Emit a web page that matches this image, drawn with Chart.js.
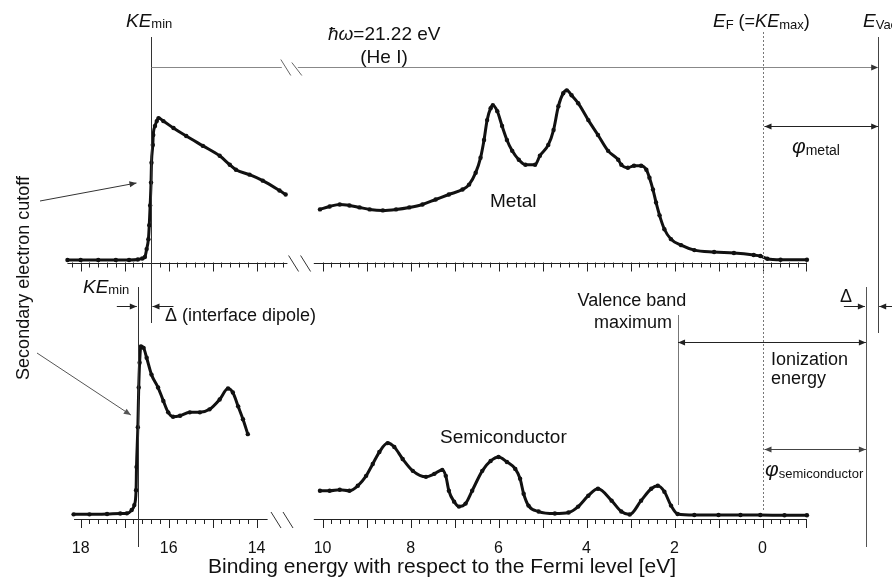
<!DOCTYPE html>
<html><head><meta charset="utf-8">
<script src="https://cdn.jsdelivr.net/npm/chart.js@4.4.0/dist/chart.umd.min.js"></script>
<style>html,body{margin:0;padding:0;background:#fff;}</style>
</head><body>
<canvas id="c" width="892" height="582"></canvas>
<script>
// ---------- DATA (binding energy in eV, intensity in arbitrary units) ----------
const metalLeftBE = [18.3, 18.0, 17.6, 17.2, 16.9, 16.7, 16.6, 16.54, 16.50, 16.46, 16.44, 16.42, 16.40, 16.39, 16.36, 16.35, 16.31, 16.27, 16.23, 16.12, 15.89, 15.60, 15.22, 14.84, 14.61, 14.47, 14.16, 13.86, 13.48, 13.34];
const metalLeftI  = [1, 1, 1, 1, 1, 1.5, 2.5, 4, 12, 22, 36, 56, 79, 99, 117, 127, 136, 141, 144, 141, 134, 126, 116, 106, 97, 92, 87, 81, 71, 67];

const metalRightBE = [10.06, 9.84, 9.61, 9.39, 9.16, 8.93, 8.63, 8.33, 8.03, 7.73, 7.43, 7.13, 6.82, 6.67, 6.52, 6.41, 6.33, 6.26, 6.18, 6.13, 6.03, 5.92, 5.81, 5.69, 5.54, 5.39, 5.17, 5.06, 4.87, 4.75, 4.64, 4.53, 4.45, 4.34, 4.19, 3.96, 3.74, 3.51, 3.28, 3.21, 3.06, 2.92, 2.76, 2.64, 2.57, 2.49, 2.42, 2.34, 2.23, 2.08, 1.85, 1.55, 1.10, 0.65, 0.20, 0.05, -0.11, -0.41, -1.01];
const metalRightI  = [52, 55, 57, 56, 54, 52, 51, 52, 54, 57, 62, 67, 72, 77, 89, 104, 122, 142, 154, 157, 151, 136, 122, 111, 102, 97, 97, 106, 117, 132, 156, 169, 172, 167, 159, 142, 127, 111, 102, 97, 94, 96, 96, 92, 84, 72, 59, 46, 32, 22, 16, 11, 9, 8, 6, 5, 2.3, 1.3, 1.3];

const semiLeftBE = [18.16, 17.8, 17.4, 17.1, 16.95, 16.84, 16.78, 16.74, 16.73, 16.70, 16.68, 16.66, 16.63, 16.57, 16.50, 16.39, 16.24, 16.12, 16.01, 15.90, 15.74, 15.52, 15.29, 15.07, 14.84, 14.65, 14.54, 14.42, 14.31, 14.20];
const semiLeftI  = [1.2, 1.2, 1.5, 2, 2.2, 5.5, 10.5, 25.5, 49, 89, 129, 154, 170.5, 169, 159, 142, 129, 115.5, 104, 99.5, 100.5, 104, 104, 107, 117, 128, 124, 110, 97, 82];

const semiRightBE = [10.06, 9.84, 9.61, 9.39, 9.20, 9.01, 8.86, 8.71, 8.52, 8.37, 8.18, 7.95, 7.65, 7.46, 7.28, 7.20, 7.13, 7.01, 6.90, 6.75, 6.60, 6.37, 6.18, 6.00, 5.81, 5.62, 5.51, 5.43, 5.32, 5.09, 4.72, 4.41, 4.19, 3.96, 3.74, 3.43, 3.21, 3.02, 2.76, 2.53, 2.38, 2.23, 2.08, 1.93, 1.55, 1.0, 0.5, 0.05, -0.5, -1.01];
const semiRightI  = [25, 25, 26, 25, 30, 40, 52, 64, 73, 69, 57, 45, 39, 42, 46, 40, 25, 14, 9, 12, 25, 45, 55, 59, 54, 47, 37, 22, 10, 4, 2, 3, 9, 20, 27, 15, 4, 1, 15, 27, 30, 24, 10, 1.5, 0.5, 0.5, 0.5, 0.5, 0.3, 0.3];

const tickLabels = [18, 16, 14, 10, 8, 6, 4, 2, 0];
// characteristic energies (eV, binding energy scale)
const keMinMetal = 16.39, keMinSemi = 16.70, fermi = 0, vbm = 1.92, eVacMetal = -2.63, eVacSemi = -2.35;

// ---------- axis break mapping ----------
const GAP = 2.5;                         // 14 -> 10 compressed break
const U = be => (be > 12 ? be : be + GAP);
const toPts = (xs, ys) => xs.map((v, i) => ({x: U(v), y: ys[i]}));

const FONT = '"Liberation Sans", Arial, Helvetica, sans-serif';
const INK = '#111';

const annot = {
  id: 'annot',
  afterDraw(chart) {
    const ctx = chart.ctx, xs = chart.scales.x;
    const P = u => xs.getPixelForValue(u);
    const X = be => P(U(be));
    const r = v => Math.round(v) + 0.5;
    ctx.save();
    function line(x1, y1, x2, y2, col, w, dash) {
      ctx.beginPath(); ctx.strokeStyle = col || '#222'; ctx.lineWidth = w || 1;
      ctx.setLineDash(dash || []); ctx.moveTo(x1, y1); ctx.lineTo(x2, y2); ctx.stroke(); ctx.setLineDash([]);
    }
    function head(xt, yt, dx, dy, col) {
      const L = 7, Wd = 3, n = Math.hypot(dx, dy), ux = dx / n, uy = dy / n;
      ctx.beginPath(); ctx.fillStyle = col || '#222';
      ctx.moveTo(xt, yt);
      ctx.lineTo(xt - ux * L - uy * Wd, yt - uy * L + ux * Wd);
      ctx.lineTo(xt - ux * L + uy * Wd, yt - uy * L - ux * Wd);
      ctx.closePath(); ctx.fill();
    }
    function arrow(x1, y1, x2, y2, both, col) {
      line(x1, y1, x2, y2, col);
      head(x2, y2, x2 - x1, y2 - y1, col);
      if (both) head(x1, y1, x1 - x2, y1 - y2, col);
    }
    function rich(runs, x, y, align) {
      let w = 0;
      runs.forEach(([s, size, it]) => { ctx.font = (it ? 'italic ' : '') + size + 'px ' + FONT; w += ctx.measureText(s).width; });
      let cx = align === 'center' ? x - w / 2 : x;
      ctx.textAlign = 'left'; ctx.textBaseline = 'alphabetic'; ctx.fillStyle = INK;
      runs.forEach(([s, size, it, dy]) => {
        ctx.font = (it ? 'italic ' : '') + size + 'px ' + FONT;
        ctx.fillText(s, cx, y + (dy || 0)); cx += ctx.measureText(s).width;
      });
    }

    // ----- axes with minor/major ticks -----
    function axis(y, segs, tickSegs) {
      segs.forEach(([a, b]) => line(X(a), r(y), X(b), r(y), '#222', 1));
      tickSegs.forEach(([a, b]) => {
        for (let k = Math.round(a * 5); k >= Math.round(b * 5); k--) {
          const px = r(X(k / 5)); const major = k % 5 === 0;
          line(px, y, px, y + (major ? 9 : 5), '#222', 1);
        }
      });
    }
    function slashes(cx, y) {
      line(cx - 12, y - 8, cx - 2, y + 8, '#333', 1);
      line(cx, y - 8, cx + 10, y + 8, '#333', 1);
    }
    const yTop = 262.5, yBot = chart.chartArea.bottom;
    axis(yTop, [[18.3, 13.3], [10.2, -1.0]], [[18.2, 13.4], [10.0, -1.0]]);
    axis(yBot, [[18.15, 13.75], [10.2, -1.0]], [[18.0, 14.0], [10.0, -1.0]]);
    slashes(P(13.0), yTop + 1);
    slashes(P(13.4), yBot + 1);

    // ----- vertical reference lines -----
    line(r(X(keMinMetal)), 37, r(X(keMinMetal)), 323, '#333', 1);
    line(r(X(keMinSemi)), 287, r(X(keMinSemi)), 547, '#333', 1);
    line(r(X(fermi)), 32, r(X(fermi)), 512, '#777', 1, [2, 2]);
    line(r(X(eVacMetal)), 37, r(X(eVacMetal)), 333, '#444', 1);
    line(r(X(eVacSemi)), 287, r(X(eVacSemi)), 547, '#555', 1);
    line(r(X(vbm)), 315, r(X(vbm)), 505, '#777', 1);

    // ----- photon energy line with break -----
    const hy = 67.5, bx = P(13.2);
    line(X(keMinMetal), hy, bx - 10, hy, '#888', 1.2);
    line(bx + 6, hy, X(eVacMetal) - 2, hy, '#888', 1.2);
    head(X(eVacMetal), hy, 1, 0, '#333');
    line(bx - 11, hy - 8, bx - 1, hy + 8, '#666', 1);
    line(bx, hy - 5, bx + 10, hy + 8, '#666', 1);

    // ----- double arrows -----
    arrow(X(fermi) + 2, 126.5, X(eVacMetal), 126.5, true, '#222');
    arrow(X(vbm), 342.5, X(eVacSemi), 342.5, true, '#222');
    arrow(X(fermi) + 2, 449.5, X(eVacSemi), 449.5, true, '#444');

    // ----- small Δ arrows -----
    arrow(X(keMinSemi) - 21, 306.5, X(keMinSemi) - 1, 306.5, false, '#222');
    arrow(X(keMinMetal) + 22, 306.5, X(keMinMetal) + 1, 306.5, false, '#222');
    arrow(X(eVacSemi) - 22, 306.5, X(eVacSemi) - 1, 306.5, false, '#222');
    arrow(X(eVacMetal) + 14, 306.5, X(eVacMetal) + 1, 306.5, false, '#222');

    // ----- pointer arrows from y title -----
    arrow(40, 201, X(keMinMetal) - 15, 183, false, '#333');
    arrow(37, 353, X(keMinSemi) - 7, 415, false, '#555');

    // ----- texts -----
    rich([['KE', 19, true], ['min', 13, false, 1]], 126, 27);
    rich([['ħω', 19, true], ['=21.22 eV', 19, false]], 328, 40);
    rich([['(He I)', 19, false]], 384, 63, 'center');
    rich([['E', 19, true], ['F', 13, false, 2], [' (=', 18, false], ['KE', 18, true], ['max', 13, false, 2], [')', 18, false]], 713, 27);
    rich([['E', 19, true], ['Vac', 13, false, 2]], 863, 27);
    rich([['φ', 21, true], ['metal', 14, false, 2]], 792, 153);
    rich([['Metal', 19, false]], 490, 207);
    rich([['KE', 19, true], ['min', 13, false, 1]], 83, 293);
    rich([['Δ (interface dipole)', 18, false]], 165, 321);
    rich([['Valence band', 18, false]], 632, 306, 'center');
    rich([['maximum', 18, false]], 633, 328, 'center');
    rich([['Ionization', 18, false]], 771, 365);
    rich([['energy', 18, false]], 771, 384);
    rich([['Δ', 18, false]], 840, 302);
    rich([['Semiconductor', 19, false]], 440, 443);
    rich([['φ', 21, true], ['semiconductor', 13, false, 2]], 765, 476);

    // y title
    ctx.save();
    ctx.translate(24, 278); ctx.rotate(-Math.PI / 2);
    ctx.font = '18px ' + FONT; ctx.fillStyle = INK; ctx.textAlign = 'center'; ctx.textBaseline = 'middle';
    ctx.fillText('Secondary electron cutoff', 0, 0);
    ctx.restore();
    ctx.restore();
  }
};

const ds = (pts, axisId) => ({
  data: pts, yAxisID: axisId, borderColor: INK, backgroundColor: INK,
  borderWidth: 3, pointRadius: 2.2, pointBackgroundColor: INK, pointBorderWidth: 0,
  cubicInterpolationMode: 'monotone', fill: false
});

new Chart(document.getElementById('c'), {
  type: 'line',
  data: { datasets: [
    ds(toPts(metalLeftBE, metalLeftI), 'yM'),
    ds(toPts(metalRightBE, metalRightI), 'yM'),
    ds(toPts(semiLeftBE, semiLeftI), 'yS'),
    ds(toPts(semiRightBE, semiRightI), 'yS')
  ]},
  options: {
    responsive: false, animation: false,
    layout: { padding: { left: 0, right: 12, top: 0, bottom: 0 } },
    plugins: { legend: { display: false }, tooltip: { enabled: false } },
    scales: {
      x: {
        type: 'linear', reverse: true, min: -0.171, max: 19.7425,
        afterBuildTicks: s => { s.ticks = tickLabels.map(v => ({ value: U(v) })); },
        afterFit: s => { s.height = 63; },
        ticks: {
          autoSkip: false, maxRotation: 0, padding: 11, color: INK,
          font: { family: FONT, size: 16 },
          callback: v => String(Math.round(v > 13 ? v : v - GAP))
        },
        grid: { display: true, drawOnChartArea: false, drawTicks: true, tickLength: 9, tickColor: 'rgba(0,0,0,0)', color: 'rgba(0,0,0,0)' },
        border: { display: false },
        title: { display: true, text: 'Binding energy with respect to the Fermi level [eV]', color: INK,
                 font: { family: FONT, size: 21 }, padding: { top: 0, bottom: 2 } }
      },
      yM: { type: 'linear', display: false, min: -260, max: 259 },
      yS: { type: 'linear', display: false, min: -3.5, max: 515.5 }
    }
  },
  plugins: [annot]
});
</script>
</body></html>
